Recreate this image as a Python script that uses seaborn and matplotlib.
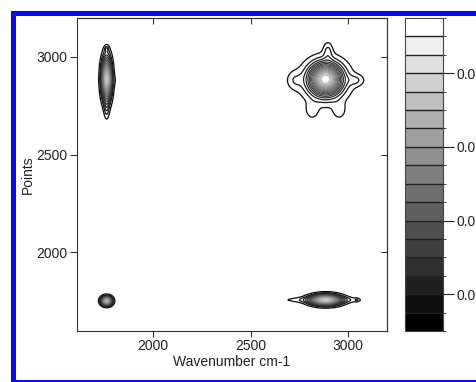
import numpy as np
import matplotlib
matplotlib.use("Agg")
import matplotlib.pyplot as plt
import seaborn as sns
from matplotlib.colors import BoundaryNorm
from matplotlib.cm import ScalarMappable
from matplotlib.patches import Rectangle

# ---- data: Gaussian components of the 2D correlation map ----
peak_cx = [1762, 1762, 1762, 1775, 1762,
           2885, 2885, 2725, 3040, 2897, 2815, 2955,
           2885, 2870, 3045]
peak_cy = [2888, 2745, 3040, 2880, 1752,
           2885, 2875, 2880, 2880, 3030, 2725, 2725,
           1757, 1757, 1757]
peak_sx = [17, 9, 7, 22, 18,
           52, 105, 28, 30, 16, 22, 22,
           52, 150, 8]
peak_sy = [72, 45, 10, 20, 15,
           50, 95, 32, 20, 32, 30, 30,
           18, 10, 6]
peak_amp = [0.082, 0.010, 0.009, 0.006, 0.080,
            0.082, 0.010, 0.007, 0.008, 0.009, 0.007, 0.007,
            0.080, 0.010, 0.006]

wavenumber_grid = np.arange(1600, 3205, 4)
points_grid = np.arange(1600, 3205, 4)

level_values = np.round(np.arange(0, 0.0851, 0.005), 4)   # 18 boundaries -> 17 bands
cbar_ticks = [0.01, 0.03, 0.05, 0.07]
cbar_tick_labels = ["0.0", "0.0", "0.0", "0.0"]            # as visible (cut at right edge)
x_ticks = [2000, 2500, 3000]
y_ticks = [2000, 2500, 3000]

# ---- build the field ----
X, Y = np.meshgrid(wavenumber_grid, points_grid)
Z = np.zeros_like(X, dtype=float)
for cx, cy, sx, sy, a in zip(peak_cx, peak_cy, peak_sx, peak_sy, peak_amp):
    Z += a * np.exp(-0.5 * (((X - cx) / sx) ** 2 + ((Y - cy) / sy) ** 2))

sns.set_style("ticks")
plt.rcParams['font.family'] = ['Liberation Sans', 'DejaVu Sans']
plt.rcParams['font.size'] = 10

W, H = 476, 382
fig = plt.figure(figsize=(W / 100, H / 100), dpi=100)
fig.patch.set_facecolor("white")

ax = fig.add_axes([77 / W, 1 - 331 / H, 310 / W, 313 / H])
cax = fig.add_axes([405 / W, 1 - 331 / H, 38 / W, 313 / H])

cmap = plt.get_cmap("gray")
norm = BoundaryNorm(level_values, cmap.N)

ax.contour(X, Y, Z, levels=level_values[1:], cmap=cmap,
           norm=plt.Normalize(0, level_values[-1] * 1.35), linewidths=0.9)

ax.set_xlim(1610, 3200)
ax.set_ylim(1598, 3198)
ax.set_xticks(x_ticks)
ax.set_yticks(y_ticks)
ax.set_xlabel("Wavenumber cm-1", labelpad=1, color="#222222")
ax.set_ylabel("Points", labelpad=1, color="#222222")
ax.tick_params(direction="out", length=5, width=0.8, pad=2,
               colors="#333333", labelcolor="#222222")
ax.tick_params(axis="x", length=4)
for s in ax.spines.values():
    s.set_color("#333333")
    s.set_linewidth(0.8)

top = ax.secondary_xaxis("top")
top.set_xticks(x_ticks)
top.tick_params(direction="in", length=4, width=0.8, labeltop=False, colors="#333333")
right = ax.secondary_yaxis("right")
right.set_yticks(y_ticks)
right.tick_params(direction="in", length=4, width=0.8, labelright=False, colors="#333333")

sm = ScalarMappable(norm=norm, cmap=cmap)
cb = fig.colorbar(sm, cax=cax, boundaries=level_values, drawedges=True,
                  ticks=cbar_ticks, spacing="proportional")
cb.dividers.set_color("#222222")
cb.dividers.set_linewidth(1.0)
cb.outline.set_edgecolor("#444444")
cb.outline.set_linewidth(0.8)
cb.ax.tick_params(direction="out", length=8, width=0.8, pad=2,
                  colors="#222222")
cb.ax.set_yticklabels(cbar_tick_labels)

# blue frame
fig.patches.append(Rectangle((12.5 / W, 0.0 / H), 500 / W, (H - 12.5) / H,
                             transform=fig.transFigure, fill=False,
                             edgecolor="#0a0af5", linewidth=3.6,
                             zorder=10, clip_on=False))

fig.savefig("out.png", dpi=100, facecolor="white")
